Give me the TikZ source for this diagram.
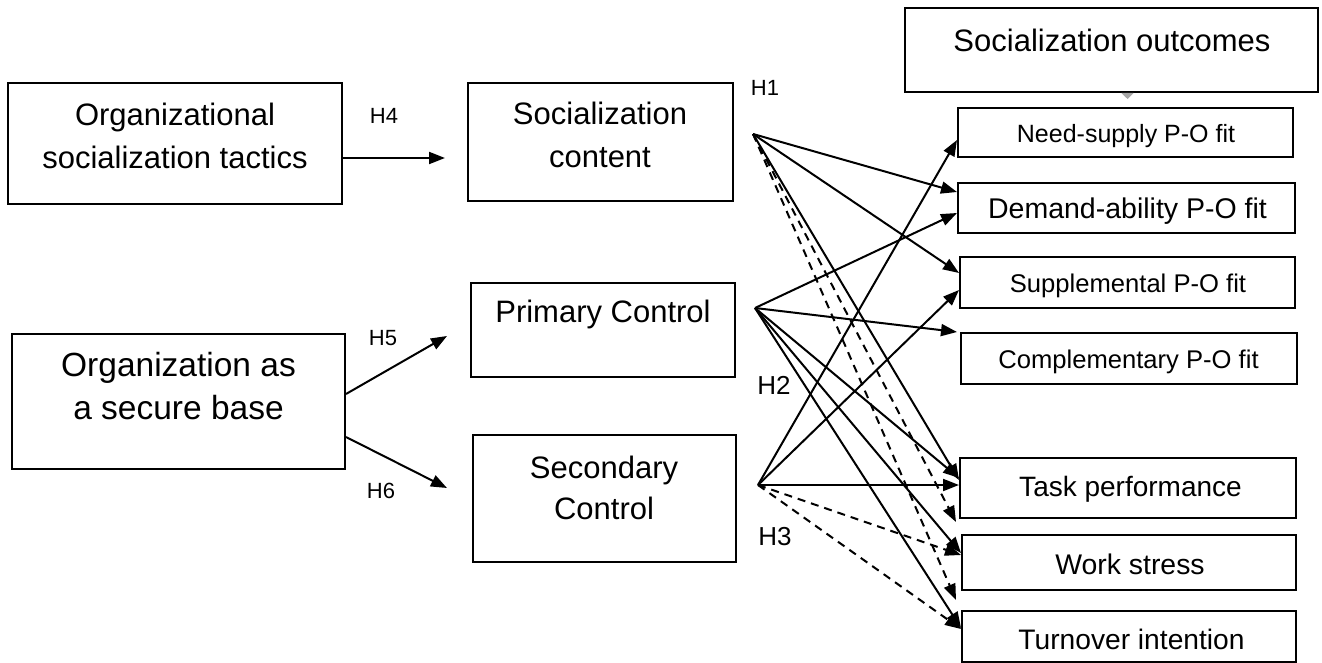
\documentclass[tikz,border=0pt]{standalone}
\usepackage{fontspec}
\setmainfont{Liberation Sans}
\usetikzlibrary{arrows.meta}
\newcommand\myfs[2]{\fontsize{#1}{#2}\selectfont}
\begin{document}
\begin{tikzpicture}[x=1pt,y=-1pt,
  box/.style={draw, line width=2pt, inner sep=0pt},
  txt/.style={inner sep=0pt, align=center},
  arr/.style={line width=2pt, -{Triangle[length=16pt,width=12pt]}},
  dsh/.style={arr, dash pattern=on 8pt off 6pt},
  hl/.style={inner sep=0pt, font=\myfs{22}{26}},
  hb/.style={inner sep=0pt, font=\myfs{26}{30}}]
\useasboundingbox (0,0) rectangle (1322,663);
% left boxes
\node[box, minimum width=334pt, minimum height=121pt] (tac) at (175,143.5) {};
\node[txt, font=\myfs{31}{43}] (tact) at (175,136) {Organizational\\socialization tactics};
\node[box, minimum width=333pt, minimum height=135pt] (sb) at (178.5,401.5) {};
\node[txt, font=\myfs{33.5}{43}] (sbt) at (178.5,386) {Organization as\\a secure base};
% middle boxes
\node[box, minimum width=265pt, minimum height=118pt] (con) at (600.5,142) {};
\node[txt, font=\myfs{31}{43}] (cont) at (600,135) {Socialization\\content};
\node[box, minimum width=264pt, minimum height=94pt] (pri) at (603,330) {};
\node[txt, font=\myfs{31}{43}] (prit) at (603,314) {Primary Control};
\node[box, minimum width=263pt, minimum height=127pt] (scd) at (604.5,498.5) {};
\node[txt, font=\myfs{31}{41}] (scdt) at (604,488) {Secondary\\Control};
% outcomes
\node[box, minimum width=413pt, minimum height=84pt] (out) at (1111.5,50) {};
\node[txt, font=\myfs{31}{40}] (outt) at (1112,40) {Socialization outcomes};
\node[box, minimum width=335pt, minimum height=49pt] (ns) at (1125.5,132.5) {};
\node[txt, font=\myfs{25}{30}] (nst) at (1126,136) {Need-supply P-O fit};
\node[box, minimum width=337pt, minimum height=50pt] (da) at (1126.5,208) {};
\node[txt, font=\myfs{28.5}{32}] (dat) at (1127.5,211) {Demand-ability P-O fit};
\node[box, minimum width=335pt, minimum height=51pt] (sup) at (1127.5,282.5) {};
\node[txt, font=\myfs{25.6}{30}] (supt) at (1128,286) {Supplemental P-O fit};
\node[box, minimum width=336pt, minimum height=51pt] (com) at (1129,358.5) {};
\node[txt, font=\myfs{25.6}{30}] (comt) at (1128.5,362) {Complementary P-O fit};
\node[box, minimum width=336pt, minimum height=60pt] (tp) at (1128,488) {};
\node[txt, font=\myfs{28}{32}] (tpt) at (1130.5,489) {Task performance};
\node[box, minimum width=334pt, minimum height=55pt] (ws) at (1129,562.5) {};
\node[txt, font=\myfs{28.4}{32}] (wst) at (1130,564) {Work stress};
\node[box, minimum width=334pt, minimum height=51pt] (ti) at (1129,636.5) {};
\node[txt, font=\myfs{28.2}{32}] (tit) at (1131.5,639) {Turnover intention};
% hypothesis labels
\node[hl] (H4) at (384,116) {H4};
\node[hl] (H5) at (383,338) {H5};
\node[hl] (H6) at (381,491) {H6};
\node[hl] (H1) at (765,88) {H1};
\node[hb] (H2) at (774,385) {H2};
\node[hb] (H3) at (775,537) {H3};
% source points and free ends
\coordinate (h1) at (753,134);
\coordinate (p) at (755,308);
\coordinate (s) at (758,485);
\coordinate (e4) at (445,158);
\coordinate (e5) at (447,336);
\coordinate (e6) at (447,488);
% left connectors
\draw[arr] ([yshift=-14.5pt]tac.east) -- (e4);
\draw[arr] ([yshift=7.5pt]sb.east) -- (e5);
\draw[arr] ([yshift=-35.5pt]sb.east) -- (e6);
% small mark under outcomes
\draw[-{Triangle[length=6pt,width=12pt]}, gray!70, line width=1.5pt] ([xshift=16pt]out.south) -- ([xshift=16pt,yshift=-6pt]out.south);
% H1 connectors
\draw[arr] (h1) -- ([yshift=16pt]da.west);
\draw[arr] (h1) -- ([yshift=9.5pt]sup.west);
\draw[arr] (h1) -- ([yshift=8pt]tp.west);
\draw[dsh] (h1) -- ([xshift=-5pt,yshift=12pt]ws.north west);
\draw[dsh] (h1) -- ([xshift=-5pt,yshift=10pt]ti.north west);
% Primary control connectors
\draw[arr] (p) -- ([yshift=-5pt]da.west);
\draw[arr] (p) -- ([xshift=-3pt]com.north west);
\draw[arr] (p) -- ([yshift=10pt]tp.west);
\draw[arr] (p) -- ([yshift=9.5pt]ws.west);
\draw[arr] (p) -- ([yshift=8.5pt]ti.west);
% Secondary control connectors
\draw[arr] (s) -- ([yshift=-7.5pt]ns.west);
\draw[arr] (s) -- ([yshift=-7.5pt]sup.west);
\draw[arr] (s) -- ([yshift=3pt]tp.west);
\draw[dsh] (s) -- ([yshift=7.5pt]ws.west);
\draw[dsh] (s) -- ([yshift=7.5pt]ti.west);
\end{tikzpicture}
\end{document}
